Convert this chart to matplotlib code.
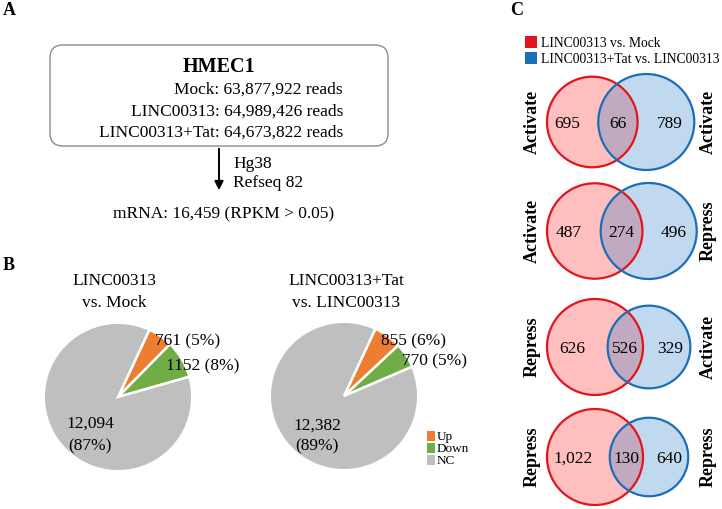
import matplotlib
matplotlib.use("Agg")
import matplotlib.pyplot as plt
import numpy as np
from matplotlib.patches import FancyBboxPatch, Circle, Rectangle

plt.rcParams['font.family'] = ['Liberation Serif', 'DejaVu Serif']

# ---- data ----
sample_names = ['Mock', 'LINC00313', 'LINC00313+Tat']
sample_reads = ['63,877,922', '64,989,426', '64,673,822']
mrna_text = 'mRNA: 16,459 (RPKM > 0.05)'

pie_titles = [['LINC00313', 'vs. Mock'], ['LINC00313+Tat', 'vs. LINC00313']]
pie_categories = ['Up', 'Down', 'NC']
pie_values = [[761, 1152, 12094], [855, 770, 12382]]
pie_labels = [['761 (5%)', '1152 (8%)', '12,094', '(87%)'],
              ['855 (6%)', '770 (5%)', '12,382', '(89%)']]
pie_colors = ['#ED7D31', '#70AD47', '#BFBFBF']

venn_series = ['LINC00313 vs. Mock', 'LINC00313+Tat vs. LINC00313']
venn_left_lab = ['Activate', 'Activate', 'Repress', 'Repress']
venn_right_lab = ['Activate', 'Repress', 'Activate', 'Repress']
venn_only_a = [695, 487, 626, 1022]
venn_both = [66, 274, 526, 130]
venn_only_b = [789, 496, 329, 640]
venn_text_a = ['695', '487', '626', '1,022']
venn_text_ab = ['66', '274', '526', '130']
venn_text_b = ['789', '496', '329', '640']

W, H = 722, 509
fig = plt.figure(figsize=(W / 100, H / 100), dpi=100)

# overlay axes in pixel coordinates
ov = fig.add_axes([0, 0, 1, 1])
ov.set_xlim(0, W)
ov.set_ylim(H, 0)
ov.axis('off')
ov.set_zorder(10)

fs = 12.5
# panel letters
for lab, x, y in [('A', 3, 15), ('B', 3, 270), ('C', 510, 15)]:
    ov.text(x, y, lab, fontsize=13, fontweight='bold', va='baseline')

# ---- panel A ----
box = FancyBboxPatch((50, 45), 338, 101, boxstyle='round,pad=0,rounding_size=13',
                     fc='none', ec='#8C8C8C', lw=1)
ov.add_patch(box)
ov.text(219, 72, 'HMEC1', fontsize=14.5, fontweight='bold', ha='center', va='baseline')
for i, (n, r) in enumerate(zip(sample_names, sample_reads)):
    ov.text(343, 94 + 21.5 * i, f'{n}: {r} reads', fontsize=fs, ha='right', va='baseline')
ov.annotate('', xy=(219, 193), xytext=(219, 146),
            arrowprops=dict(arrowstyle='-|>', color='black', lw=1.4, mutation_scale=13))
ov.text(233, 168, 'Hg38', fontsize=fs, va='baseline')
ov.text(233, 187, 'Refseq 82', fontsize=fs, va='baseline')
ov.text(224, 218, mrna_text, fontsize=fs, ha='center', va='baseline')

# ---- panel B: pies ----
pie_centers = [(118, 397), (344, 396)]
pie_r = 75
label_off = [[(37, -52), (48, -27), (-28, 31), (-28, 53)],
             [(37, -51), (58, -31), (-27, 34), (-27, 54)]]
for k in range(2):
    cx, cy = pie_centers[k]
    ax = fig.add_axes([(cx - pie_r) / W, (H - cy - pie_r) / H, 2 * pie_r / W, 2 * pie_r / H])
    wedges, _ = ax.pie(pie_values[k], colors=pie_colors, startangle=65, counterclock=False,
                       wedgeprops=dict(edgecolor='white', linewidth=1.8))
    ax.set_xlim(-1.01, 1.01)
    ax.set_ylim(-1.01, 1.01)
    ax.set_aspect('equal')
    ov.text(cx - 4 + 6 * k, 285, pie_titles[k][0], fontsize=fs, ha='center', va='baseline')
    ov.text(cx - 4 + 6 * k, 307, pie_titles[k][1], fontsize=fs, ha='center', va='baseline')
    offs = label_off[k]
    labs = pie_labels[k]
    ov.text(cx + offs[0][0], cy + offs[0][1], labs[0], fontsize=fs, va='baseline')
    ov.text(cx + offs[1][0], cy + offs[1][1], labs[1], fontsize=fs, va='baseline')
    ov.text(cx + offs[2][0], cy + offs[2][1], labs[2], fontsize=fs, ha='center', va='baseline')
    ov.text(cx + offs[3][0], cy + offs[3][1], labs[3], fontsize=fs, ha='center', va='baseline')

# pie legend
for i, (c, lab) in enumerate(zip(pie_colors, pie_categories)):
    y = 436 + 12 * i
    ov.add_patch(Rectangle((427, y - 5), 8, 10, fc=c, ec='none'))
    ov.text(437, y + 4, lab, fontsize=9.5, va='baseline')

# ---- panel C: venns ----
red_e, blue_e = '#E3141C', '#1B6EB8'
for i, (c, lab) in enumerate(zip([red_e, blue_e], venn_series)):
    y = 42 + 16 * i
    ov.add_patch(Rectangle((525, y - 6), 12, 12, fc=c, ec='none'))
    ov.text(541, y + 4.5, lab, fontsize=9.8, va='baseline')

row_y = [122, 231, 347, 457]
base_r = 48
dist = 54
for i in range(4):
    na = venn_only_a[i] + venn_both[i]
    nb = venn_only_b[i] + venn_both[i]
    nmax = max(na, nb)
    ra = base_r * np.sqrt(na / nmax)
    rb = base_r * np.sqrt(nb / nmax)
    y = row_y[i]
    xa = 547 + ra
    xb = xa + dist
    ov.add_patch(Circle((xa, y), ra, fc='#FF1A1A', alpha=0.28, ec='none'))
    ov.add_patch(Circle((xb, y), rb, fc='#2277C2', alpha=0.28, ec='none'))
    ov.add_patch(Circle((xa, y), ra, fc='none', ec=red_e, lw=1.6))
    ov.add_patch(Circle((xb, y), rb, fc='none', ec=blue_e, lw=1.6))
    a_left, a_right = xa - ra, xa + ra
    b_left, b_right = xb - rb, xb + rb
    ov.text((a_left + b_left) / 2 - 5, y + 6, venn_text_a[i], fontsize=fs, ha='center', va='baseline')
    ov.text((b_left + a_right) / 2, y + 6, venn_text_ab[i], fontsize=fs, ha='center', va='baseline')
    ov.text((a_right + b_right) / 2 + 4, y + 6, venn_text_b[i], fontsize=fs, ha='center', va='baseline')
    ov.text(532, y, venn_left_lab[i], fontsize=13, fontweight='bold', rotation=90,
            ha='center', va='center')
    ov.text(708, y, venn_right_lab[i], fontsize=13, fontweight='bold', rotation=90,
            ha='center', va='center')

fig.savefig('out.png', dpi=100)
